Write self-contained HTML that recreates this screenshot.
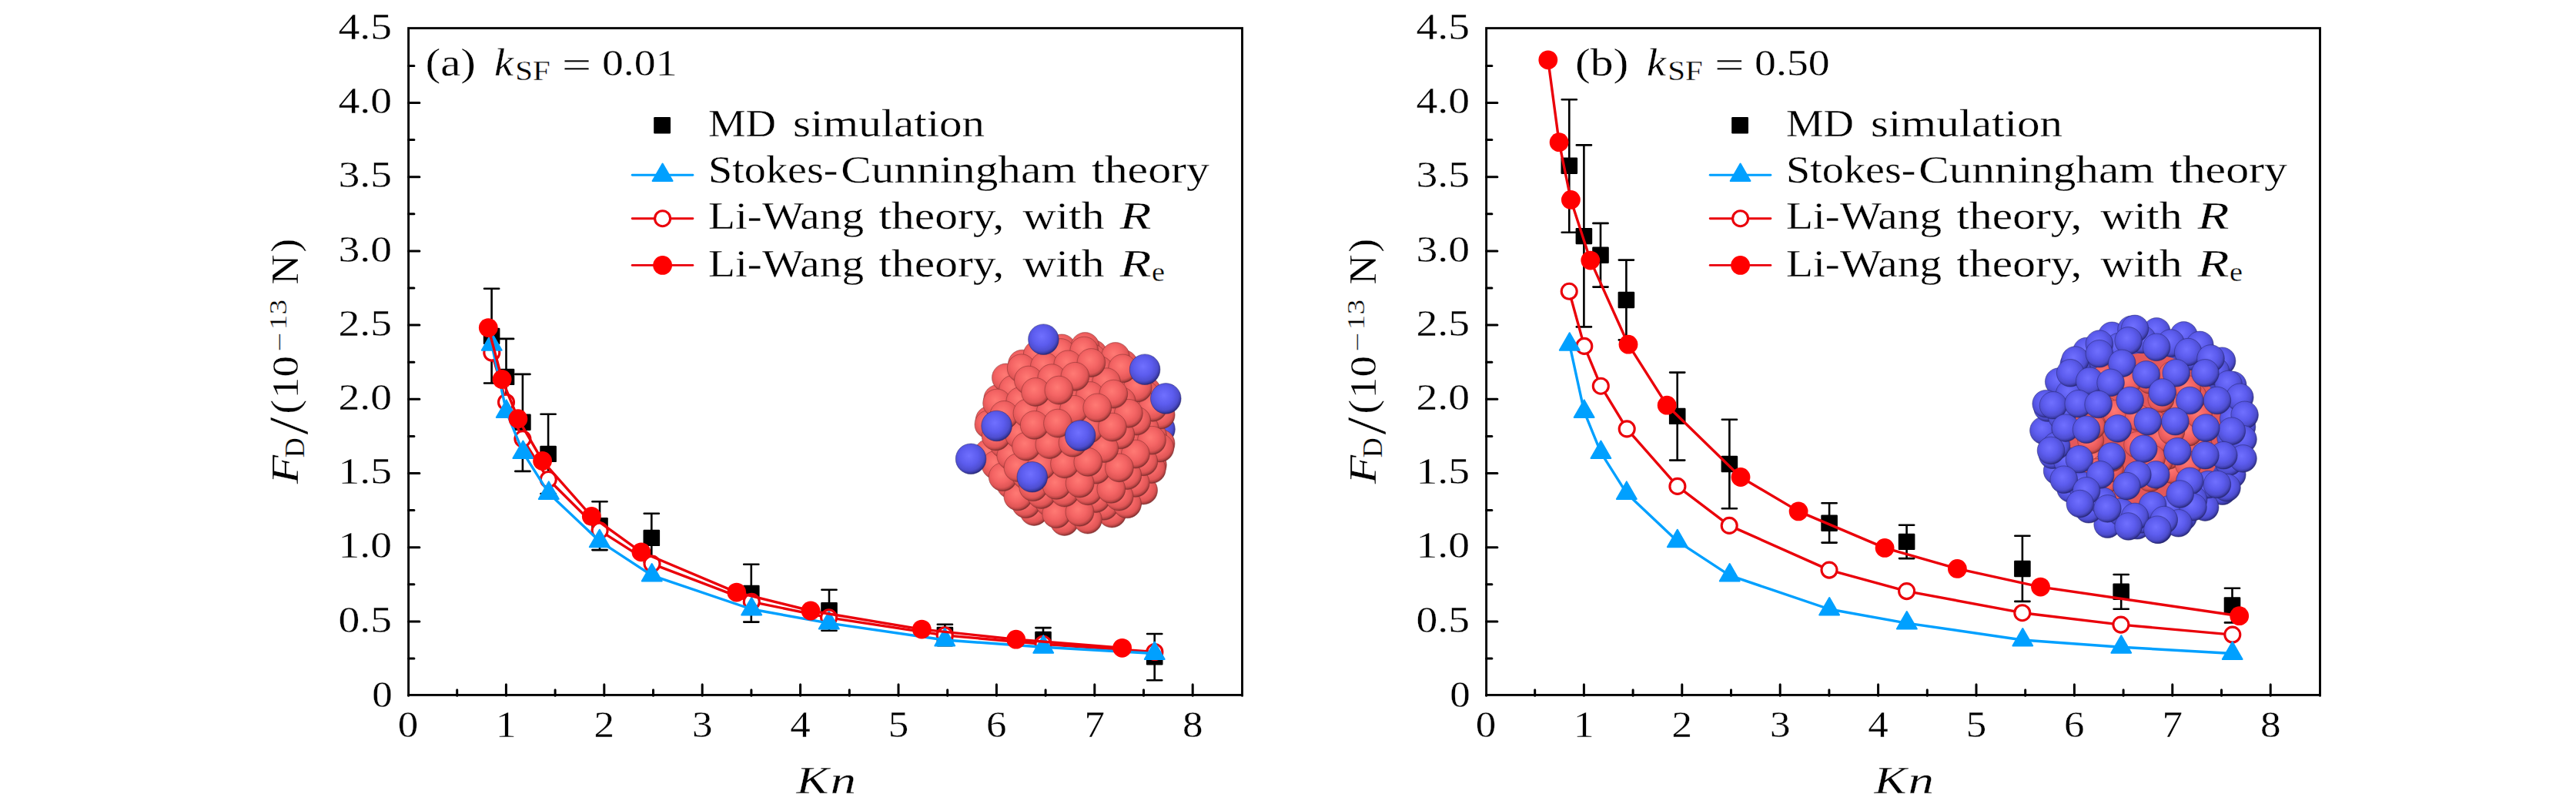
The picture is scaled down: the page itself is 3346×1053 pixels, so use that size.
<!DOCTYPE html>
<html><head><meta charset="utf-8"><title>Drag force vs Knudsen number</title>
<style>html,body{margin:0;padding:0;background:#fff}body{width:3346px;height:1053px;overflow:hidden}svg{display:block}text{white-space:pre;stroke:#fff;stroke-width:.3px}</style>
</head><body>
<svg width="3346" height="1053" viewBox="0 0 3346 1053" font-family="'Liberation Serif', serif" fill="#000">
<defs>
<radialGradient id="gr" cx="44%" cy="40%" r="60%"><stop offset="0" stop-color="#ff7a74"/><stop offset="0.5" stop-color="#f46464"/><stop offset="0.8" stop-color="#e05656"/><stop offset="0.92" stop-color="#b84444"/><stop offset="1" stop-color="#843030"/></radialGradient>
<radialGradient id="gb" cx="44%" cy="40%" r="60%"><stop offset="0" stop-color="#7070ff"/><stop offset="0.5" stop-color="#5c5cee"/><stop offset="0.8" stop-color="#4e4ed0"/><stop offset="0.92" stop-color="#3c3ca8"/><stop offset="1" stop-color="#2a2a7c"/></radialGradient>
</defs>
<rect width="3346" height="1053" fill="#fff"/>
<g><circle cx="1506.5" cy="557.2" r="19.8" fill="url(#gb)" stroke="#24246a" stroke-opacity=".55" stroke-width=".9"/><circle cx="1396.0" cy="563.5" r="108" fill="#b84446"/><circle cx="1333.9" cy="648.6" r="18.4" fill="url(#gr)" stroke="#7c2a2a" stroke-opacity=".55" stroke-width=".9"/><circle cx="1326.3" cy="552.9" r="18.4" fill="url(#gr)" stroke="#7c2a2a" stroke-opacity=".55" stroke-width=".9"/><circle cx="1439.4" cy="485.0" r="18.4" fill="url(#gr)" stroke="#7c2a2a" stroke-opacity=".55" stroke-width=".9"/><circle cx="1435.1" cy="651.2" r="18.4" fill="url(#gr)" stroke="#7c2a2a" stroke-opacity=".55" stroke-width=".9"/><circle cx="1314.3" cy="623.4" r="18.4" fill="url(#gr)" stroke="#7c2a2a" stroke-opacity=".55" stroke-width=".9"/><circle cx="1306.7" cy="527.7" r="18.4" fill="url(#gr)" stroke="#7c2a2a" stroke-opacity=".55" stroke-width=".9"/><circle cx="1419.8" cy="459.8" r="18.4" fill="url(#gr)" stroke="#7c2a2a" stroke-opacity=".55" stroke-width=".9"/><circle cx="1415.4" cy="626.0" r="18.4" fill="url(#gr)" stroke="#7c2a2a" stroke-opacity=".55" stroke-width=".9"/><circle cx="1294.7" cy="598.2" r="18.4" fill="url(#gr)" stroke="#7c2a2a" stroke-opacity=".55" stroke-width=".9"/><circle cx="1383.8" cy="671.4" r="18.4" fill="url(#gr)" stroke="#7c2a2a" stroke-opacity=".55" stroke-width=".9"/><circle cx="1496.9" cy="603.5" r="18.4" fill="url(#gr)" stroke="#7c2a2a" stroke-opacity=".55" stroke-width=".9"/><circle cx="1489.3" cy="507.8" r="18.4" fill="url(#gr)" stroke="#7c2a2a" stroke-opacity=".55" stroke-width=".9"/><circle cx="1368.5" cy="480.0" r="18.4" fill="url(#gr)" stroke="#7c2a2a" stroke-opacity=".55" stroke-width=".9"/><circle cx="1364.2" cy="646.2" r="18.4" fill="url(#gr)" stroke="#7c2a2a" stroke-opacity=".55" stroke-width=".9"/><circle cx="1477.3" cy="578.3" r="18.4" fill="url(#gr)" stroke="#7c2a2a" stroke-opacity=".55" stroke-width=".9"/><circle cx="1469.7" cy="482.6" r="18.4" fill="url(#gr)" stroke="#7c2a2a" stroke-opacity=".55" stroke-width=".9"/><circle cx="1465.3" cy="648.8" r="18.4" fill="url(#gr)" stroke="#7c2a2a" stroke-opacity=".55" stroke-width=".9"/><circle cx="1344.5" cy="621.0" r="18.4" fill="url(#gr)" stroke="#7c2a2a" stroke-opacity=".55" stroke-width=".9"/><circle cx="1336.9" cy="525.3" r="18.4" fill="url(#gr)" stroke="#7c2a2a" stroke-opacity=".55" stroke-width=".9"/><circle cx="1445.7" cy="623.6" r="18.4" fill="url(#gr)" stroke="#7c2a2a" stroke-opacity=".55" stroke-width=".9"/><circle cx="1324.9" cy="595.8" r="18.4" fill="url(#gr)" stroke="#7c2a2a" stroke-opacity=".55" stroke-width=".9"/><circle cx="1317.3" cy="500.1" r="18.4" fill="url(#gr)" stroke="#7c2a2a" stroke-opacity=".55" stroke-width=".9"/><circle cx="1305.3" cy="570.6" r="18.4" fill="url(#gr)" stroke="#7c2a2a" stroke-opacity=".55" stroke-width=".9"/><circle cx="1414.1" cy="669.0" r="18.4" fill="url(#gr)" stroke="#7c2a2a" stroke-opacity=".55" stroke-width=".9"/><circle cx="1285.6" cy="545.5" r="18.4" fill="url(#gr)" stroke="#7c2a2a" stroke-opacity=".55" stroke-width=".9"/><circle cx="1398.8" cy="477.6" r="18.4" fill="url(#gr)" stroke="#7c2a2a" stroke-opacity=".55" stroke-width=".9"/><circle cx="1394.4" cy="643.8" r="18.4" fill="url(#gr)" stroke="#7c2a2a" stroke-opacity=".55" stroke-width=".9"/><circle cx="1507.6" cy="575.9" r="18.4" fill="url(#gr)" stroke="#7c2a2a" stroke-opacity=".55" stroke-width=".9"/><circle cx="1379.1" cy="452.4" r="18.4" fill="url(#gr)" stroke="#7c2a2a" stroke-opacity=".55" stroke-width=".9"/><circle cx="1487.9" cy="550.7" r="18.4" fill="url(#gr)" stroke="#7c2a2a" stroke-opacity=".55" stroke-width=".9"/><circle cx="1475.9" cy="621.3" r="18.4" fill="url(#gr)" stroke="#7c2a2a" stroke-opacity=".55" stroke-width=".9"/><circle cx="1468.3" cy="525.6" r="18.4" fill="url(#gr)" stroke="#7c2a2a" stroke-opacity=".55" stroke-width=".9"/><circle cx="1347.5" cy="497.7" r="18.4" fill="url(#gr)" stroke="#7c2a2a" stroke-opacity=".55" stroke-width=".9"/><circle cx="1343.2" cy="664.0" r="18.4" fill="url(#gr)" stroke="#7c2a2a" stroke-opacity=".55" stroke-width=".9"/><circle cx="1448.6" cy="500.4" r="18.4" fill="url(#gr)" stroke="#7c2a2a" stroke-opacity=".55" stroke-width=".9"/><circle cx="1327.9" cy="472.6" r="18.4" fill="url(#gr)" stroke="#7c2a2a" stroke-opacity=".55" stroke-width=".9"/><circle cx="1444.3" cy="666.6" r="18.4" fill="url(#gr)" stroke="#7c2a2a" stroke-opacity=".55" stroke-width=".9"/><circle cx="1323.5" cy="638.8" r="18.4" fill="url(#gr)" stroke="#7c2a2a" stroke-opacity=".55" stroke-width=".9"/><circle cx="1315.9" cy="543.1" r="18.4" fill="url(#gr)" stroke="#7c2a2a" stroke-opacity=".55" stroke-width=".9"/><circle cx="1429.0" cy="475.2" r="18.4" fill="url(#gr)" stroke="#7c2a2a" stroke-opacity=".55" stroke-width=".9"/><circle cx="1424.7" cy="641.4" r="18.4" fill="url(#gr)" stroke="#7c2a2a" stroke-opacity=".55" stroke-width=".9"/><circle cx="1303.9" cy="613.6" r="18.4" fill="url(#gr)" stroke="#7c2a2a" stroke-opacity=".55" stroke-width=".9"/><circle cx="1296.2" cy="517.9" r="18.4" fill="url(#gr)" stroke="#7c2a2a" stroke-opacity=".55" stroke-width=".9"/><circle cx="1409.4" cy="450.0" r="18.4" fill="url(#gr)" stroke="#7c2a2a" stroke-opacity=".55" stroke-width=".9"/><circle cx="1284.3" cy="588.4" r="18.4" fill="url(#gr)" stroke="#7c2a2a" stroke-opacity=".55" stroke-width=".9"/><circle cx="1498.5" cy="523.2" r="18.4" fill="url(#gr)" stroke="#7c2a2a" stroke-opacity=".55" stroke-width=".9"/><circle cx="1373.4" cy="661.6" r="18.4" fill="url(#gr)" stroke="#7c2a2a" stroke-opacity=".55" stroke-width=".9"/><circle cx="1486.5" cy="593.7" r="18.4" fill="url(#gr)" stroke="#7c2a2a" stroke-opacity=".55" stroke-width=".9"/><circle cx="1478.9" cy="498.0" r="18.4" fill="url(#gr)" stroke="#7c2a2a" stroke-opacity=".55" stroke-width=".9"/><circle cx="1358.1" cy="470.2" r="18.4" fill="url(#gr)" stroke="#7c2a2a" stroke-opacity=".55" stroke-width=".9"/><circle cx="1353.8" cy="636.4" r="18.4" fill="url(#gr)" stroke="#7c2a2a" stroke-opacity=".55" stroke-width=".9"/><circle cx="1459.3" cy="472.8" r="18.4" fill="url(#gr)" stroke="#7c2a2a" stroke-opacity=".55" stroke-width=".9"/><circle cx="1454.9" cy="639.0" r="18.4" fill="url(#gr)" stroke="#7c2a2a" stroke-opacity=".55" stroke-width=".9"/><circle cx="1334.1" cy="611.2" r="18.4" fill="url(#gr)" stroke="#7c2a2a" stroke-opacity=".55" stroke-width=".9"/><circle cx="1326.5" cy="515.5" r="18.4" fill="url(#gr)" stroke="#7c2a2a" stroke-opacity=".55" stroke-width=".9"/><circle cx="1314.5" cy="586.0" r="18.4" fill="url(#gr)" stroke="#7c2a2a" stroke-opacity=".55" stroke-width=".9"/><circle cx="1306.9" cy="490.4" r="18.4" fill="url(#gr)" stroke="#7c2a2a" stroke-opacity=".55" stroke-width=".9"/><circle cx="1294.9" cy="560.9" r="18.4" fill="url(#gr)" stroke="#7c2a2a" stroke-opacity=".55" stroke-width=".9"/><circle cx="1403.6" cy="659.2" r="18.4" fill="url(#gr)" stroke="#7c2a2a" stroke-opacity=".55" stroke-width=".9"/><circle cx="1388.4" cy="467.8" r="18.4" fill="url(#gr)" stroke="#7c2a2a" stroke-opacity=".55" stroke-width=".9"/><circle cx="1497.1" cy="566.1" r="18.4" fill="url(#gr)" stroke="#7c2a2a" stroke-opacity=".55" stroke-width=".9"/><circle cx="1485.1" cy="636.6" r="18.4" fill="url(#gr)" stroke="#7c2a2a" stroke-opacity=".55" stroke-width=".9"/><circle cx="1477.5" cy="541.0" r="18.4" fill="url(#gr)" stroke="#7c2a2a" stroke-opacity=".55" stroke-width=".9"/><circle cx="1465.5" cy="611.5" r="18.4" fill="url(#gr)" stroke="#7c2a2a" stroke-opacity=".55" stroke-width=".9"/><circle cx="1457.9" cy="515.8" r="18.4" fill="url(#gr)" stroke="#7c2a2a" stroke-opacity=".55" stroke-width=".9"/><circle cx="1337.1" cy="488.0" r="18.4" fill="url(#gr)" stroke="#7c2a2a" stroke-opacity=".55" stroke-width=".9"/><circle cx="1332.7" cy="654.2" r="18.4" fill="url(#gr)" stroke="#7c2a2a" stroke-opacity=".55" stroke-width=".9"/><circle cx="1438.2" cy="490.6" r="18.4" fill="url(#gr)" stroke="#7c2a2a" stroke-opacity=".55" stroke-width=".9"/><circle cx="1433.9" cy="656.8" r="18.4" fill="url(#gr)" stroke="#7c2a2a" stroke-opacity=".55" stroke-width=".9"/><circle cx="1313.1" cy="629.0" r="18.4" fill="url(#gr)" stroke="#7c2a2a" stroke-opacity=".55" stroke-width=".9"/><circle cx="1305.5" cy="533.3" r="18.4" fill="url(#gr)" stroke="#7c2a2a" stroke-opacity=".55" stroke-width=".9"/><circle cx="1418.6" cy="465.4" r="18.4" fill="url(#gr)" stroke="#7c2a2a" stroke-opacity=".55" stroke-width=".9"/><circle cx="1293.5" cy="603.8" r="18.4" fill="url(#gr)" stroke="#7c2a2a" stroke-opacity=".55" stroke-width=".9"/><circle cx="1507.7" cy="538.6" r="18.4" fill="url(#gr)" stroke="#7c2a2a" stroke-opacity=".55" stroke-width=".9"/><circle cx="1382.6" cy="677.0" r="18.4" fill="url(#gr)" stroke="#7c2a2a" stroke-opacity=".55" stroke-width=".9"/><circle cx="1495.8" cy="609.1" r="18.4" fill="url(#gr)" stroke="#7c2a2a" stroke-opacity=".55" stroke-width=".9"/><circle cx="1488.1" cy="513.4" r="18.4" fill="url(#gr)" stroke="#7c2a2a" stroke-opacity=".55" stroke-width=".9"/><circle cx="1367.3" cy="485.6" r="18.4" fill="url(#gr)" stroke="#7c2a2a" stroke-opacity=".55" stroke-width=".9"/><circle cx="1363.0" cy="651.8" r="18.4" fill="url(#gr)" stroke="#7c2a2a" stroke-opacity=".55" stroke-width=".9"/><circle cx="1476.1" cy="583.9" r="18.4" fill="url(#gr)" stroke="#7c2a2a" stroke-opacity=".55" stroke-width=".9"/><circle cx="1468.5" cy="488.2" r="18.4" fill="url(#gr)" stroke="#7c2a2a" stroke-opacity=".55" stroke-width=".9"/><circle cx="1347.7" cy="460.4" r="18.4" fill="url(#gr)" stroke="#7c2a2a" stroke-opacity=".55" stroke-width=".9"/><circle cx="1464.1" cy="654.4" r="18.4" fill="url(#gr)" stroke="#7c2a2a" stroke-opacity=".55" stroke-width=".9"/><circle cx="1343.4" cy="626.6" r="18.4" fill="url(#gr)" stroke="#7c2a2a" stroke-opacity=".55" stroke-width=".9"/><circle cx="1448.8" cy="463.0" r="18.4" fill="url(#gr)" stroke="#7c2a2a" stroke-opacity=".55" stroke-width=".9"/><circle cx="1444.5" cy="629.3" r="18.4" fill="url(#gr)" stroke="#7c2a2a" stroke-opacity=".55" stroke-width=".9"/><circle cx="1323.7" cy="601.4" r="18.4" fill="url(#gr)" stroke="#7c2a2a" stroke-opacity=".55" stroke-width=".9"/><circle cx="1316.1" cy="505.7" r="18.4" fill="url(#gr)" stroke="#7c2a2a" stroke-opacity=".55" stroke-width=".9"/><circle cx="1304.1" cy="576.3" r="18.4" fill="url(#gr)" stroke="#7c2a2a" stroke-opacity=".55" stroke-width=".9"/><circle cx="1412.9" cy="674.6" r="18.4" fill="url(#gr)" stroke="#7c2a2a" stroke-opacity=".55" stroke-width=".9"/><circle cx="1284.4" cy="551.1" r="18.4" fill="url(#gr)" stroke="#7c2a2a" stroke-opacity=".55" stroke-width=".9"/><circle cx="1397.6" cy="483.2" r="18.4" fill="url(#gr)" stroke="#7c2a2a" stroke-opacity=".55" stroke-width=".9"/><circle cx="1393.2" cy="649.4" r="18.4" fill="url(#gr)" stroke="#7c2a2a" stroke-opacity=".55" stroke-width=".9"/><circle cx="1506.4" cy="581.5" r="18.4" fill="url(#gr)" stroke="#7c2a2a" stroke-opacity=".55" stroke-width=".9"/><circle cx="1377.9" cy="458.0" r="18.4" fill="url(#gr)" stroke="#7c2a2a" stroke-opacity=".55" stroke-width=".9"/><circle cx="1486.7" cy="556.4" r="18.4" fill="url(#gr)" stroke="#7c2a2a" stroke-opacity=".55" stroke-width=".9"/><circle cx="1474.7" cy="626.9" r="18.4" fill="url(#gr)" stroke="#7c2a2a" stroke-opacity=".55" stroke-width=".9"/><circle cx="1467.1" cy="531.2" r="18.4" fill="url(#gr)" stroke="#7c2a2a" stroke-opacity=".55" stroke-width=".9"/><circle cx="1346.3" cy="503.4" r="18.4" fill="url(#gr)" stroke="#7c2a2a" stroke-opacity=".55" stroke-width=".9"/><circle cx="1455.1" cy="601.7" r="18.4" fill="url(#gr)" stroke="#7c2a2a" stroke-opacity=".55" stroke-width=".9"/><circle cx="1447.5" cy="506.0" r="18.4" fill="url(#gr)" stroke="#7c2a2a" stroke-opacity=".55" stroke-width=".9"/><circle cx="1326.7" cy="478.2" r="18.4" fill="url(#gr)" stroke="#7c2a2a" stroke-opacity=".55" stroke-width=".9"/><circle cx="1322.3" cy="644.4" r="18.4" fill="url(#gr)" stroke="#7c2a2a" stroke-opacity=".55" stroke-width=".9"/><circle cx="1314.7" cy="548.7" r="18.4" fill="url(#gr)" stroke="#7c2a2a" stroke-opacity=".55" stroke-width=".9"/><circle cx="1427.8" cy="480.8" r="18.4" fill="url(#gr)" stroke="#7c2a2a" stroke-opacity=".55" stroke-width=".9"/><circle cx="1423.5" cy="647.0" r="18.4" fill="url(#gr)" stroke="#7c2a2a" stroke-opacity=".55" stroke-width=".9"/><circle cx="1302.7" cy="619.2" r="18.4" fill="url(#gr)" stroke="#7c2a2a" stroke-opacity=".55" stroke-width=".9"/><circle cx="1295.1" cy="523.5" r="18.4" fill="url(#gr)" stroke="#7c2a2a" stroke-opacity=".55" stroke-width=".9"/><circle cx="1408.2" cy="455.6" r="18.4" fill="url(#gr)" stroke="#7c2a2a" stroke-opacity=".55" stroke-width=".9"/><circle cx="1497.3" cy="528.8" r="18.4" fill="url(#gr)" stroke="#7c2a2a" stroke-opacity=".55" stroke-width=".9"/><circle cx="1376.6" cy="501.0" r="18.4" fill="url(#gr)" stroke="#7c2a2a" stroke-opacity=".55" stroke-width=".9"/><circle cx="1372.2" cy="667.2" r="18.4" fill="url(#gr)" stroke="#7c2a2a" stroke-opacity=".55" stroke-width=".9"/><circle cx="1485.3" cy="599.3" r="18.4" fill="url(#gr)" stroke="#7c2a2a" stroke-opacity=".55" stroke-width=".9"/><circle cx="1477.7" cy="503.6" r="18.4" fill="url(#gr)" stroke="#7c2a2a" stroke-opacity=".55" stroke-width=".9"/><circle cx="1356.9" cy="475.8" r="18.4" fill="url(#gr)" stroke="#7c2a2a" stroke-opacity=".55" stroke-width=".9"/><circle cx="1352.6" cy="642.0" r="18.4" fill="url(#gr)" stroke="#7c2a2a" stroke-opacity=".55" stroke-width=".9"/><circle cx="1465.7" cy="574.1" r="18.4" fill="url(#gr)" stroke="#7c2a2a" stroke-opacity=".55" stroke-width=".9"/><circle cx="1458.1" cy="478.4" r="18.4" fill="url(#gr)" stroke="#7c2a2a" stroke-opacity=".55" stroke-width=".9"/><circle cx="1453.7" cy="644.6" r="18.4" fill="url(#gr)" stroke="#7c2a2a" stroke-opacity=".55" stroke-width=".9"/><circle cx="1332.9" cy="616.8" r="18.4" fill="url(#gr)" stroke="#7c2a2a" stroke-opacity=".55" stroke-width=".9"/><circle cx="1325.3" cy="521.1" r="18.4" fill="url(#gr)" stroke="#7c2a2a" stroke-opacity=".55" stroke-width=".9"/><circle cx="1434.1" cy="619.5" r="18.4" fill="url(#gr)" stroke="#7c2a2a" stroke-opacity=".55" stroke-width=".9"/><circle cx="1313.3" cy="591.7" r="18.4" fill="url(#gr)" stroke="#7c2a2a" stroke-opacity=".55" stroke-width=".9"/><circle cx="1293.7" cy="566.5" r="18.4" fill="url(#gr)" stroke="#7c2a2a" stroke-opacity=".55" stroke-width=".9"/><circle cx="1406.8" cy="498.6" r="18.4" fill="url(#gr)" stroke="#7c2a2a" stroke-opacity=".55" stroke-width=".9"/><circle cx="1402.5" cy="664.8" r="18.4" fill="url(#gr)" stroke="#7c2a2a" stroke-opacity=".55" stroke-width=".9"/><circle cx="1387.2" cy="473.4" r="18.4" fill="url(#gr)" stroke="#7c2a2a" stroke-opacity=".55" stroke-width=".9"/><circle cx="1382.8" cy="639.6" r="18.4" fill="url(#gr)" stroke="#7c2a2a" stroke-opacity=".55" stroke-width=".9"/><circle cx="1496.0" cy="571.7" r="18.4" fill="url(#gr)" stroke="#7c2a2a" stroke-opacity=".55" stroke-width=".9"/><circle cx="1363.2" cy="614.5" r="18.4" fill="url(#gr)" stroke="#7c2a2a" stroke-opacity=".55" stroke-width=".9"/><circle cx="1476.3" cy="546.6" r="18.4" fill="url(#gr)" stroke="#7c2a2a" stroke-opacity=".55" stroke-width=".9"/><circle cx="1355.5" cy="518.8" r="18.4" fill="url(#gr)" stroke="#7c2a2a" stroke-opacity=".55" stroke-width=".9"/><circle cx="1464.3" cy="617.1" r="18.4" fill="url(#gr)" stroke="#7c2a2a" stroke-opacity=".55" stroke-width=".9"/><circle cx="1343.5" cy="589.3" r="18.4" fill="url(#gr)" stroke="#7c2a2a" stroke-opacity=".55" stroke-width=".9"/><circle cx="1456.7" cy="521.4" r="18.4" fill="url(#gr)" stroke="#7c2a2a" stroke-opacity=".55" stroke-width=".9"/><circle cx="1335.9" cy="493.6" r="18.4" fill="url(#gr)" stroke="#7c2a2a" stroke-opacity=".55" stroke-width=".9"/><circle cx="1444.7" cy="591.9" r="18.4" fill="url(#gr)" stroke="#7c2a2a" stroke-opacity=".55" stroke-width=".9"/><circle cx="1323.9" cy="564.1" r="18.4" fill="url(#gr)" stroke="#7c2a2a" stroke-opacity=".55" stroke-width=".9"/><circle cx="1437.1" cy="496.2" r="18.4" fill="url(#gr)" stroke="#7c2a2a" stroke-opacity=".55" stroke-width=".9"/><circle cx="1304.3" cy="538.9" r="18.4" fill="url(#gr)" stroke="#7c2a2a" stroke-opacity=".55" stroke-width=".9"/><circle cx="1417.4" cy="471.0" r="18.4" fill="url(#gr)" stroke="#7c2a2a" stroke-opacity=".55" stroke-width=".9"/><circle cx="1413.1" cy="637.3" r="18.4" fill="url(#gr)" stroke="#7c2a2a" stroke-opacity=".55" stroke-width=".9"/><circle cx="1393.4" cy="612.1" r="18.4" fill="url(#gr)" stroke="#7c2a2a" stroke-opacity=".55" stroke-width=".9"/><circle cx="1385.8" cy="516.4" r="18.4" fill="url(#gr)" stroke="#7c2a2a" stroke-opacity=".55" stroke-width=".9"/><circle cx="1373.8" cy="586.9" r="18.4" fill="url(#gr)" stroke="#7c2a2a" stroke-opacity=".55" stroke-width=".9"/><circle cx="1366.2" cy="491.2" r="18.4" fill="url(#gr)" stroke="#7c2a2a" stroke-opacity=".55" stroke-width=".9"/><circle cx="1474.9" cy="589.5" r="18.4" fill="url(#gr)" stroke="#7c2a2a" stroke-opacity=".55" stroke-width=".9"/><circle cx="1354.2" cy="561.7" r="18.4" fill="url(#gr)" stroke="#7c2a2a" stroke-opacity=".55" stroke-width=".9"/><circle cx="1342.2" cy="632.2" r="18.4" fill="url(#gr)" stroke="#7c2a2a" stroke-opacity=".55" stroke-width=".9"/><circle cx="1455.3" cy="564.4" r="18.4" fill="url(#gr)" stroke="#7c2a2a" stroke-opacity=".55" stroke-width=".9"/><circle cx="1334.5" cy="536.5" r="18.4" fill="url(#gr)" stroke="#7c2a2a" stroke-opacity=".55" stroke-width=".9"/><circle cx="1443.3" cy="634.9" r="18.4" fill="url(#gr)" stroke="#7c2a2a" stroke-opacity=".55" stroke-width=".9"/><circle cx="1322.5" cy="607.1" r="18.4" fill="url(#gr)" stroke="#7c2a2a" stroke-opacity=".55" stroke-width=".9"/><circle cx="1435.7" cy="539.2" r="18.4" fill="url(#gr)" stroke="#7c2a2a" stroke-opacity=".55" stroke-width=".9"/><circle cx="1423.7" cy="609.7" r="18.4" fill="url(#gr)" stroke="#7c2a2a" stroke-opacity=".55" stroke-width=".9"/><circle cx="1416.0" cy="514.0" r="18.4" fill="url(#gr)" stroke="#7c2a2a" stroke-opacity=".55" stroke-width=".9"/><circle cx="1404.0" cy="584.5" r="18.4" fill="url(#gr)" stroke="#7c2a2a" stroke-opacity=".55" stroke-width=".9"/><circle cx="1396.4" cy="488.8" r="18.4" fill="url(#gr)" stroke="#7c2a2a" stroke-opacity=".55" stroke-width=".9"/><circle cx="1384.4" cy="559.3" r="18.4" fill="url(#gr)" stroke="#7c2a2a" stroke-opacity=".55" stroke-width=".9"/><circle cx="1372.4" cy="629.9" r="18.4" fill="url(#gr)" stroke="#7c2a2a" stroke-opacity=".55" stroke-width=".9"/><circle cx="1364.8" cy="534.2" r="18.4" fill="url(#gr)" stroke="#7c2a2a" stroke-opacity=".55" stroke-width=".9"/><circle cx="1352.8" cy="604.7" r="18.4" fill="url(#gr)" stroke="#7c2a2a" stroke-opacity=".55" stroke-width=".9"/><circle cx="1465.9" cy="536.8" r="18.4" fill="url(#gr)" stroke="#7c2a2a" stroke-opacity=".55" stroke-width=".9"/><circle cx="1345.1" cy="509.0" r="18.4" fill="url(#gr)" stroke="#7c2a2a" stroke-opacity=".55" stroke-width=".9"/><circle cx="1453.9" cy="607.3" r="18.4" fill="url(#gr)" stroke="#7c2a2a" stroke-opacity=".55" stroke-width=".9"/><circle cx="1333.1" cy="579.5" r="18.4" fill="url(#gr)" stroke="#7c2a2a" stroke-opacity=".55" stroke-width=".9"/><circle cx="1446.3" cy="511.6" r="18.4" fill="url(#gr)" stroke="#7c2a2a" stroke-opacity=".55" stroke-width=".9"/><circle cx="1434.3" cy="582.1" r="18.4" fill="url(#gr)" stroke="#7c2a2a" stroke-opacity=".55" stroke-width=".9"/><circle cx="1414.6" cy="557.0" r="18.4" fill="url(#gr)" stroke="#7c2a2a" stroke-opacity=".55" stroke-width=".9"/><circle cx="1402.7" cy="627.5" r="18.4" fill="url(#gr)" stroke="#7c2a2a" stroke-opacity=".55" stroke-width=".9"/><circle cx="1395.0" cy="531.8" r="18.4" fill="url(#gr)" stroke="#7c2a2a" stroke-opacity=".55" stroke-width=".9"/><circle cx="1383.0" cy="602.3" r="18.4" fill="url(#gr)" stroke="#7c2a2a" stroke-opacity=".55" stroke-width=".9"/><circle cx="1375.4" cy="506.6" r="18.4" fill="url(#gr)" stroke="#7c2a2a" stroke-opacity=".55" stroke-width=".9"/><circle cx="1363.4" cy="577.1" r="18.4" fill="url(#gr)" stroke="#7c2a2a" stroke-opacity=".55" stroke-width=".9"/><circle cx="1343.7" cy="551.9" r="18.4" fill="url(#gr)" stroke="#7c2a2a" stroke-opacity=".55" stroke-width=".9"/><circle cx="1444.9" cy="554.6" r="18.4" fill="url(#gr)" stroke="#7c2a2a" stroke-opacity=".55" stroke-width=".9"/><circle cx="1425.3" cy="529.4" r="18.4" fill="url(#gr)" stroke="#7c2a2a" stroke-opacity=".55" stroke-width=".9"/><circle cx="1413.3" cy="599.9" r="18.4" fill="url(#gr)" stroke="#7c2a2a" stroke-opacity=".55" stroke-width=".9"/><circle cx="1393.6" cy="574.7" r="18.4" fill="url(#gr)" stroke="#7c2a2a" stroke-opacity=".55" stroke-width=".9"/><circle cx="1374.0" cy="549.6" r="18.4" fill="url(#gr)" stroke="#7c2a2a" stroke-opacity=".55" stroke-width=".9"/></g>
<circle cx="1355.4" cy="440.7" r="19.8" fill="url(#gb)" stroke="#24246a" stroke-opacity=".55" stroke-width=".9"/>
<circle cx="1487.1" cy="479.7" r="19.8" fill="url(#gb)" stroke="#24246a" stroke-opacity=".55" stroke-width=".9"/>
<circle cx="1514.3" cy="517.4" r="19.8" fill="url(#gb)" stroke="#24246a" stroke-opacity=".55" stroke-width=".9"/>
<circle cx="1294.6" cy="553.0" r="19.8" fill="url(#gb)" stroke="#24246a" stroke-opacity=".55" stroke-width=".9"/>
<circle cx="1403.2" cy="565.6" r="19.8" fill="url(#gb)" stroke="#24246a" stroke-opacity=".55" stroke-width=".9"/>
<circle cx="1261.1" cy="595.8" r="19.8" fill="url(#gb)" stroke="#24246a" stroke-opacity=".55" stroke-width=".9"/>
<circle cx="1340.8" cy="619.3" r="19.8" fill="url(#gb)" stroke="#24246a" stroke-opacity=".55" stroke-width=".9"/>
<g stroke="#000" stroke-width="2.6" stroke-linecap="round" fill="none"><path d="M638.6 374.8V497.5M629.0 374.8h19.2M629.0 497.5h19.2"/><path d="M657.5 439.9V538.9M647.9 439.9h19.2M647.9 538.9h19.2"/><path d="M678.9 485.9V611.9M669.3 485.9h19.2M669.3 611.9h19.2"/><path d="M712.1 537.7V641.1M702.5 537.7h19.2M702.5 641.1h19.2"/><path d="M779.0 651.2V714.1M769.4 651.2h19.2M769.4 714.1h19.2"/><path d="M846.3 666.7V730.1M836.7 666.7h19.2M836.7 730.1h19.2"/><path d="M975.8 732.7V807.6M966.2 732.7h19.2M966.2 807.6h19.2"/><path d="M1077.0 765.8V818.7M1067.4 765.8h19.2M1067.4 818.7h19.2"/><path d="M1227.4 810.7V838.1M1217.8 810.7h19.2M1217.8 838.1h19.2"/><path d="M1355.0 815.1V845.7M1345.4 815.1h19.2M1345.4 845.7h19.2"/><path d="M1499.7 823.0V883.2M1490.1 823.0h19.2M1490.1 883.2h19.2"/></g>
<rect x="627.8" y="425.7" width="21.6" height="21.4" rx="1.2" fill="#000"/>
<rect x="646.7" y="478.7" width="21.6" height="21.4" rx="1.2" fill="#000"/>
<rect x="668.1" y="537.5" width="21.6" height="21.4" rx="1.2" fill="#000"/>
<rect x="701.3" y="578.7" width="21.6" height="21.4" rx="1.2" fill="#000"/>
<rect x="768.2" y="672.0" width="21.6" height="21.4" rx="1.2" fill="#000"/>
<rect x="835.5" y="687.7" width="21.6" height="21.4" rx="1.2" fill="#000"/>
<rect x="965.0" y="759.7" width="21.6" height="21.4" rx="1.2" fill="#000"/>
<rect x="1066.2" y="781.9" width="21.6" height="21.4" rx="1.2" fill="#000"/>
<rect x="1216.6" y="813.7" width="21.6" height="21.4" rx="1.2" fill="#000"/>
<rect x="1344.2" y="819.7" width="21.6" height="21.4" rx="1.2" fill="#000"/>
<rect x="1488.9" y="842.0" width="21.6" height="21.4" rx="1.2" fill="#000"/>
<polyline points="638.8,458.1 657.5,522.2 678.9,569.8 712.3,622.5 779.1,688.9 847.0,732.1 976.3,781.3 1076.6,801.9 1227.2,824.9 1355.0,836.2 1499.9,846.5" fill="none" stroke="#ea000a" stroke-width="3.4" stroke-linejoin="round"/>
<circle cx="638.8" cy="458.1" r="10" fill="#fff" stroke="#ea000a" stroke-width="3.1"/>
<circle cx="657.5" cy="522.2" r="10" fill="#fff" stroke="#ea000a" stroke-width="3.1"/>
<circle cx="678.9" cy="569.8" r="10" fill="#fff" stroke="#ea000a" stroke-width="3.1"/>
<circle cx="712.3" cy="622.5" r="10" fill="#fff" stroke="#ea000a" stroke-width="3.1"/>
<circle cx="779.1" cy="688.9" r="10" fill="#fff" stroke="#ea000a" stroke-width="3.1"/>
<circle cx="847.0" cy="732.1" r="10" fill="#fff" stroke="#ea000a" stroke-width="3.1"/>
<circle cx="976.3" cy="781.3" r="10" fill="#fff" stroke="#ea000a" stroke-width="3.1"/>
<circle cx="1076.6" cy="801.9" r="10" fill="#fff" stroke="#ea000a" stroke-width="3.1"/>
<circle cx="1227.2" cy="824.9" r="10" fill="#fff" stroke="#ea000a" stroke-width="3.1"/>
<circle cx="1355.0" cy="836.2" r="10" fill="#fff" stroke="#ea000a" stroke-width="3.1"/>
<circle cx="1499.9" cy="846.5" r="10" fill="#fff" stroke="#ea000a" stroke-width="3.1"/>
<polyline points="638.7,447.2 657.7,534.4 679.4,587.6 712.8,640.4 778.8,702.7 846.7,747.1 976.2,791.0 1076.8,809.1 1227.3,831.0 1355.3,840.2 1499.7,848.5" fill="none" stroke="#00a0ff" stroke-width="3.4" stroke-linejoin="round"/>
<path d="M638.7 432.2L651.7 454.7H625.8Z" fill="#00a0ff" stroke="#00a0ff" stroke-width="2" stroke-linejoin="round"/>
<path d="M657.7 519.4L670.7 541.9H644.8Z" fill="#00a0ff" stroke="#00a0ff" stroke-width="2" stroke-linejoin="round"/>
<path d="M679.4 572.6L692.4 595.1H666.4Z" fill="#00a0ff" stroke="#00a0ff" stroke-width="2" stroke-linejoin="round"/>
<path d="M712.8 625.4L725.8 647.9H699.8Z" fill="#00a0ff" stroke="#00a0ff" stroke-width="2" stroke-linejoin="round"/>
<path d="M778.8 687.7L791.8 710.2H765.8Z" fill="#00a0ff" stroke="#00a0ff" stroke-width="2" stroke-linejoin="round"/>
<path d="M846.7 732.1L859.7 754.6H833.8Z" fill="#00a0ff" stroke="#00a0ff" stroke-width="2" stroke-linejoin="round"/>
<path d="M976.2 776.0L989.2 798.5H963.2Z" fill="#00a0ff" stroke="#00a0ff" stroke-width="2" stroke-linejoin="round"/>
<path d="M1076.8 794.1L1089.8 816.6H1063.8Z" fill="#00a0ff" stroke="#00a0ff" stroke-width="2" stroke-linejoin="round"/>
<path d="M1227.3 816.0L1240.2 838.5H1214.3Z" fill="#00a0ff" stroke="#00a0ff" stroke-width="2" stroke-linejoin="round"/>
<path d="M1355.3 825.2L1368.2 847.7H1342.3Z" fill="#00a0ff" stroke="#00a0ff" stroke-width="2" stroke-linejoin="round"/>
<path d="M1499.7 833.5L1512.7 856.0H1486.8Z" fill="#00a0ff" stroke="#00a0ff" stroke-width="2" stroke-linejoin="round"/>
<polyline points="634.3,425.6 652.1,492.5 672.9,543.7 704.6,598.4 768.3,670.4 832.9,716.8 956.8,769.1 1053.0,793.0 1197.3,817.1 1319.7,830.2 1457.6,841.3" fill="none" stroke="#ea000a" stroke-width="3.4" stroke-linejoin="round"/>
<circle cx="634.3" cy="425.6" r="12.4" fill="#ff0000"/>
<circle cx="652.1" cy="492.5" r="12.4" fill="#ff0000"/>
<circle cx="672.9" cy="543.7" r="12.4" fill="#ff0000"/>
<circle cx="704.6" cy="598.4" r="12.4" fill="#ff0000"/>
<circle cx="768.3" cy="670.4" r="12.4" fill="#ff0000"/>
<circle cx="832.9" cy="716.8" r="12.4" fill="#ff0000"/>
<circle cx="956.8" cy="769.1" r="12.4" fill="#ff0000"/>
<circle cx="1053.0" cy="793.0" r="12.4" fill="#ff0000"/>
<circle cx="1197.3" cy="817.1" r="12.4" fill="#ff0000"/>
<circle cx="1319.7" cy="830.2" r="12.4" fill="#ff0000"/>
<circle cx="1457.6" cy="841.3" r="12.4" fill="#ff0000"/>
<path d="M530.6 855.0h7.300000000000001M530.6 806.9h14.3M530.6 758.8h7.300000000000001M530.6 710.7h14.3M530.6 662.6h7.300000000000001M530.6 614.5h14.3M530.6 566.4h7.300000000000001M530.6 518.3h14.3M530.6 470.2h7.300000000000001M530.6 422.1h14.3M530.6 374.0h7.300000000000001M530.6 325.9h14.3M530.6 277.8h7.300000000000001M530.6 229.7h14.3M530.6 181.6h7.300000000000001M530.6 133.5h14.3M530.6 85.4h7.300000000000001M593.7 903.3v-7.6M657.4 903.3v-14.5M721.1 903.3v-7.6M784.8 903.3v-14.5M848.5 903.3v-7.6M912.2 903.3v-14.5M975.9 903.3v-7.6M1039.6 903.3v-14.5M1103.3 903.3v-7.6M1167.0 903.3v-14.5M1230.7 903.3v-7.6M1294.4 903.3v-14.5M1358.1 903.3v-7.6M1421.8 903.3v-14.5M1485.5 903.3v-7.6M1549.2 903.3v-14.5M530.6 902.4v0.9M1613.5 902.4v0.9" stroke="#000" stroke-width="3" stroke-linecap="round" fill="none"/>
<rect x="530.6" y="36.6" width="1082.9" height="865.8" fill="none" stroke="#000" stroke-width="2.9"/>
<text x="439.5" y="820.6" font-size="48.5" textLength="69.5" lengthAdjust="spacingAndGlyphs">0.5</text>
<text x="439.5" y="724.4" font-size="48.5" textLength="69.5" lengthAdjust="spacingAndGlyphs">1.0</text>
<text x="439.5" y="628.2" font-size="48.5" textLength="69.5" lengthAdjust="spacingAndGlyphs">1.5</text>
<text x="439.5" y="532.0" font-size="48.5" textLength="69.5" lengthAdjust="spacingAndGlyphs">2.0</text>
<text x="439.5" y="435.8" font-size="48.5" textLength="69.5" lengthAdjust="spacingAndGlyphs">2.5</text>
<text x="439.5" y="339.6" font-size="48.5" textLength="69.5" lengthAdjust="spacingAndGlyphs">3.0</text>
<text x="439.5" y="243.4" font-size="48.5" textLength="69.5" lengthAdjust="spacingAndGlyphs">3.5</text>
<text x="439.5" y="147.2" font-size="48.5" textLength="69.5" lengthAdjust="spacingAndGlyphs">4.0</text>
<text x="439.5" y="51.0" font-size="48.5" textLength="69.5" lengthAdjust="spacingAndGlyphs">4.5</text>
<text x="483.3" y="917.6" font-size="48.5" textLength="26.5" lengthAdjust="spacingAndGlyphs">0</text>
<text x="516.7" y="957.2" font-size="48.5" textLength="26.5" lengthAdjust="spacingAndGlyphs">0</text>
<text x="644.1" y="957.2" font-size="48.5" textLength="26.5" lengthAdjust="spacingAndGlyphs">1</text>
<text x="771.5" y="957.2" font-size="48.5" textLength="26.5" lengthAdjust="spacingAndGlyphs">2</text>
<text x="898.9" y="957.2" font-size="48.5" textLength="26.5" lengthAdjust="spacingAndGlyphs">3</text>
<text x="1026.3" y="957.2" font-size="48.5" textLength="26.5" lengthAdjust="spacingAndGlyphs">4</text>
<text x="1153.7" y="957.2" font-size="48.5" textLength="26.5" lengthAdjust="spacingAndGlyphs">5</text>
<text x="1281.1" y="957.2" font-size="48.5" textLength="26.5" lengthAdjust="spacingAndGlyphs">6</text>
<text x="1408.5" y="957.2" font-size="48.5" textLength="26.5" lengthAdjust="spacingAndGlyphs">7</text>
<text x="1535.9" y="957.2" font-size="48.5" textLength="26.5" lengthAdjust="spacingAndGlyphs">8</text>
<text><tspan x="1034.5" y="1030.0" font-size="50" font-style="italic" textLength="42.0" lengthAdjust="spacingAndGlyphs">K</tspan><tspan x="1078.5" y="1030.0" font-size="50" font-style="italic" textLength="33.5" lengthAdjust="spacingAndGlyphs">n</tspan></text>
<g transform="translate(387.0 628) rotate(-90)">
<text><tspan x="-0.2" y="0.0" font-size="50" font-style="italic" textLength="37.5" lengthAdjust="spacingAndGlyphs">F</tspan><tspan x="33.7" y="7.5" font-size="35" textLength="26.0" lengthAdjust="spacingAndGlyphs">D</tspan><tspan x="62.4" y="8.0" font-size="58" textLength="25.0" lengthAdjust="spacingAndGlyphs" font-family="'DejaVu Sans', sans-serif" font-weight="200">/</tspan><tspan x="90.4" y="0.0" font-size="50" textLength="18.5" lengthAdjust="spacingAndGlyphs">(</tspan><tspan x="110.8" y="0.0" font-size="48.5" textLength="55.2" lengthAdjust="spacingAndGlyphs">10</tspan><tspan x="171.0" y="-12.9" font-size="32" textLength="25.1" lengthAdjust="spacingAndGlyphs">−</tspan><tspan x="199.6" y="-15.1" font-size="32" textLength="39.6" lengthAdjust="spacingAndGlyphs">13</tspan> <tspan x="258.5" y="0.0" font-size="50" textLength="39.0" lengthAdjust="spacingAndGlyphs">N</tspan><tspan x="300.3" y="0.0" font-size="50" textLength="18.0" lengthAdjust="spacingAndGlyphs">)</tspan></text>
</g>
<text><tspan x="552.5" y="97.5" font-size="50" textLength="65.5" lengthAdjust="spacingAndGlyphs">(a)</tspan> <tspan x="642.0" y="97.5" font-size="50" font-style="italic" textLength="25.0" lengthAdjust="spacingAndGlyphs">k</tspan><tspan x="669.2" y="104.0" font-size="35" textLength="45.5" lengthAdjust="spacingAndGlyphs">SF</tspan> <tspan x="729.8" y="101.0" font-size="50" textLength="38.5" lengthAdjust="spacingAndGlyphs">=</tspan> <tspan x="782.0" y="97.5" font-size="48.5" textLength="97.5" lengthAdjust="spacingAndGlyphs">0.01</tspan></text>
<rect x="849.2" y="152.1" width="21.8" height="21.4" rx="1.2" fill="#000"/>
<path d="M821.2 227.3H899.9" stroke="#00a0ff" stroke-width="2.9" stroke-linecap="round"/>
<path d="M860.6 212.5L873.6 235.0H847.6Z" fill="#00a0ff" stroke="#00a0ff" stroke-width="2" stroke-linejoin="round"/>
<path d="M821.2 283.7H899.9" stroke="#ea000a" stroke-width="2.9" stroke-linecap="round"/>
<circle cx="860.6" cy="283.7" r="10" fill="#fff" stroke="#ea000a" stroke-width="3.1"/>
<path d="M821.2 344.4H899.9" stroke="#ea000a" stroke-width="2.9" stroke-linecap="round"/>
<circle cx="860.6" cy="344.4" r="12.4" fill="#ff0000"/>
<text><tspan x="920.0" y="177.0" font-size="50" textLength="88.0" lengthAdjust="spacingAndGlyphs">MD</tspan> <tspan x="1030.0" y="177.0" font-size="50" textLength="249.0" lengthAdjust="spacingAndGlyphs">simulation</tspan></text>
<text><tspan x="920.0" y="237.4" font-size="50" textLength="168.5" lengthAdjust="spacingAndGlyphs">Stokes-</tspan><tspan x="1092.3" y="237.4" font-size="50" textLength="306.0" lengthAdjust="spacingAndGlyphs">Cunningham</tspan> <tspan x="1418.0" y="237.4" font-size="50" textLength="153.0" lengthAdjust="spacingAndGlyphs">theory</tspan></text>
<text><tspan x="920.0" y="297.0" font-size="50" textLength="202.0" lengthAdjust="spacingAndGlyphs">Li-Wang</tspan> <tspan x="1141.5" y="297.0" font-size="50" textLength="163.0" lengthAdjust="spacingAndGlyphs">theory,</tspan> <tspan x="1328.5" y="297.0" font-size="50" textLength="106.0" lengthAdjust="spacingAndGlyphs">with</tspan> <tspan x="1454.5" y="297.0" font-size="50" font-style="italic" textLength="41.0" lengthAdjust="spacingAndGlyphs">R</tspan></text>
<text><tspan x="920.0" y="358.8" font-size="50" textLength="202.0" lengthAdjust="spacingAndGlyphs">Li-Wang</tspan> <tspan x="1141.5" y="358.8" font-size="50" textLength="163.0" lengthAdjust="spacingAndGlyphs">theory,</tspan> <tspan x="1328.5" y="358.8" font-size="50" textLength="106.0" lengthAdjust="spacingAndGlyphs">with</tspan> <tspan x="1454.5" y="358.8" font-size="50" font-style="italic" textLength="41.0" lengthAdjust="spacingAndGlyphs">R</tspan><tspan x="1496.0" y="364.6" font-size="35" textLength="17.0" lengthAdjust="spacingAndGlyphs">e</tspan></text>
<g><circle cx="2912.0" cy="554.3" r="17.8" fill="url(#gb)" stroke="#24246a" stroke-opacity=".55" stroke-width=".9"/><circle cx="2907.1" cy="588.2" r="17.8" fill="url(#gb)" stroke="#24246a" stroke-opacity=".55" stroke-width=".9"/><circle cx="2899.3" cy="616.2" r="17.8" fill="url(#gb)" stroke="#24246a" stroke-opacity=".55" stroke-width=".9"/><circle cx="2886.8" cy="637.7" r="17.8" fill="url(#gb)" stroke="#24246a" stroke-opacity=".55" stroke-width=".9"/><circle cx="2864.2" cy="658.6" r="17.8" fill="url(#gb)" stroke="#24246a" stroke-opacity=".55" stroke-width=".9"/><circle cx="2835.8" cy="671.3" r="17.8" fill="url(#gb)" stroke="#24246a" stroke-opacity=".55" stroke-width=".9"/><circle cx="2803.4" cy="687.7" r="17.8" fill="url(#gb)" stroke="#24246a" stroke-opacity=".55" stroke-width=".9"/><circle cx="2776.0" cy="682.3" r="17.8" fill="url(#gb)" stroke="#24246a" stroke-opacity=".55" stroke-width=".9"/><circle cx="2737.6" cy="680.7" r="17.8" fill="url(#gb)" stroke="#24246a" stroke-opacity=".55" stroke-width=".9"/><circle cx="2713.0" cy="661.3" r="17.8" fill="url(#gb)" stroke="#24246a" stroke-opacity=".55" stroke-width=".9"/><circle cx="2689.5" cy="634.5" r="17.8" fill="url(#gb)" stroke="#24246a" stroke-opacity=".55" stroke-width=".9"/><circle cx="2672.1" cy="611.4" r="17.8" fill="url(#gb)" stroke="#24246a" stroke-opacity=".55" stroke-width=".9"/><circle cx="2666.1" cy="590.8" r="17.8" fill="url(#gb)" stroke="#24246a" stroke-opacity=".55" stroke-width=".9"/><circle cx="2654.4" cy="559.0" r="17.8" fill="url(#gb)" stroke="#24246a" stroke-opacity=".55" stroke-width=".9"/><circle cx="2659.5" cy="529.5" r="17.8" fill="url(#gb)" stroke="#24246a" stroke-opacity=".55" stroke-width=".9"/><circle cx="2674.2" cy="495.6" r="17.8" fill="url(#gb)" stroke="#24246a" stroke-opacity=".55" stroke-width=".9"/><circle cx="2693.6" cy="473.4" r="17.8" fill="url(#gb)" stroke="#24246a" stroke-opacity=".55" stroke-width=".9"/><circle cx="2710.4" cy="456.0" r="17.8" fill="url(#gb)" stroke="#24246a" stroke-opacity=".55" stroke-width=".9"/><circle cx="2743.2" cy="435.8" r="17.8" fill="url(#gb)" stroke="#24246a" stroke-opacity=".55" stroke-width=".9"/><circle cx="2768.5" cy="427.9" r="17.8" fill="url(#gb)" stroke="#24246a" stroke-opacity=".55" stroke-width=".9"/><circle cx="2801.2" cy="430.4" r="17.8" fill="url(#gb)" stroke="#24246a" stroke-opacity=".55" stroke-width=".9"/><circle cx="2836.5" cy="435.4" r="17.8" fill="url(#gb)" stroke="#24246a" stroke-opacity=".55" stroke-width=".9"/><circle cx="2857.4" cy="447.9" r="17.8" fill="url(#gb)" stroke="#24246a" stroke-opacity=".55" stroke-width=".9"/><circle cx="2886.1" cy="468.7" r="17.8" fill="url(#gb)" stroke="#24246a" stroke-opacity=".55" stroke-width=".9"/><circle cx="2900.2" cy="500.1" r="17.8" fill="url(#gb)" stroke="#24246a" stroke-opacity=".55" stroke-width=".9"/><circle cx="2909.3" cy="532.4" r="17.8" fill="url(#gb)" stroke="#24246a" stroke-opacity=".55" stroke-width=".9"/><circle cx="2786.5" cy="556.5" r="122" fill="#4848c0"/><circle cx="2786.5" cy="560.5" r="102" fill="#e4585a"/><circle cx="2719.8" cy="598.2" r="17" fill="url(#gr)" stroke="#7c2a2a" stroke-opacity=".55" stroke-width=".9"/><circle cx="2822.0" cy="610.7" r="17" fill="url(#gr)" stroke="#7c2a2a" stroke-opacity=".55" stroke-width=".9"/><circle cx="2856.3" cy="578.0" r="17" fill="url(#gr)" stroke="#7c2a2a" stroke-opacity=".55" stroke-width=".9"/><circle cx="2792.6" cy="494.2" r="17" fill="url(#gr)" stroke="#7c2a2a" stroke-opacity=".55" stroke-width=".9"/><circle cx="2821.5" cy="525.8" r="17" fill="url(#gr)" stroke="#7c2a2a" stroke-opacity=".55" stroke-width=".9"/><circle cx="2763.6" cy="496.6" r="17" fill="url(#gr)" stroke="#7c2a2a" stroke-opacity=".55" stroke-width=".9"/><circle cx="2734.4" cy="531.9" r="17" fill="url(#gr)" stroke="#7c2a2a" stroke-opacity=".55" stroke-width=".9"/><circle cx="2832.3" cy="488.3" r="17" fill="url(#gr)" stroke="#7c2a2a" stroke-opacity=".55" stroke-width=".9"/><circle cx="2715.7" cy="572.1" r="17" fill="url(#gr)" stroke="#7c2a2a" stroke-opacity=".55" stroke-width=".9"/><circle cx="2854.9" cy="587.9" r="17" fill="url(#gr)" stroke="#7c2a2a" stroke-opacity=".55" stroke-width=".9"/><circle cx="2733.7" cy="490.5" r="17" fill="url(#gr)" stroke="#7c2a2a" stroke-opacity=".55" stroke-width=".9"/><circle cx="2807.0" cy="518.3" r="17" fill="url(#gr)" stroke="#7c2a2a" stroke-opacity=".55" stroke-width=".9"/><circle cx="2732.3" cy="607.8" r="17" fill="url(#gr)" stroke="#7c2a2a" stroke-opacity=".55" stroke-width=".9"/><circle cx="2845.7" cy="568.9" r="17" fill="url(#gr)" stroke="#7c2a2a" stroke-opacity=".55" stroke-width=".9"/><circle cx="2801.3" cy="586.7" r="17" fill="url(#gr)" stroke="#7c2a2a" stroke-opacity=".55" stroke-width=".9"/><circle cx="2858.4" cy="588.4" r="17" fill="url(#gr)" stroke="#7c2a2a" stroke-opacity=".55" stroke-width=".9"/><circle cx="2816.6" cy="592.3" r="17" fill="url(#gr)" stroke="#7c2a2a" stroke-opacity=".55" stroke-width=".9"/><circle cx="2722.9" cy="612.5" r="17" fill="url(#gr)" stroke="#7c2a2a" stroke-opacity=".55" stroke-width=".9"/><circle cx="2838.1" cy="589.1" r="17" fill="url(#gr)" stroke="#7c2a2a" stroke-opacity=".55" stroke-width=".9"/><circle cx="2707.7" cy="535.2" r="17" fill="url(#gr)" stroke="#7c2a2a" stroke-opacity=".55" stroke-width=".9"/><circle cx="2821.0" cy="486.3" r="17" fill="url(#gr)" stroke="#7c2a2a" stroke-opacity=".55" stroke-width=".9"/><circle cx="2776.4" cy="616.3" r="17" fill="url(#gr)" stroke="#7c2a2a" stroke-opacity=".55" stroke-width=".9"/><circle cx="2734.2" cy="624.7" r="17" fill="url(#gr)" stroke="#7c2a2a" stroke-opacity=".55" stroke-width=".9"/><circle cx="2819.5" cy="551.5" r="17" fill="url(#gr)" stroke="#7c2a2a" stroke-opacity=".55" stroke-width=".9"/><circle cx="2805.5" cy="598.4" r="17" fill="url(#gr)" stroke="#7c2a2a" stroke-opacity=".55" stroke-width=".9"/><circle cx="2792.9" cy="621.4" r="17" fill="url(#gr)" stroke="#7c2a2a" stroke-opacity=".55" stroke-width=".9"/><circle cx="2748.3" cy="536.5" r="17" fill="url(#gr)" stroke="#7c2a2a" stroke-opacity=".55" stroke-width=".9"/><circle cx="2843.4" cy="562.0" r="17" fill="url(#gr)" stroke="#7c2a2a" stroke-opacity=".55" stroke-width=".9"/><circle cx="2741.4" cy="609.0" r="17" fill="url(#gr)" stroke="#7c2a2a" stroke-opacity=".55" stroke-width=".9"/><circle cx="2856.5" cy="539.3" r="17" fill="url(#gr)" stroke="#7c2a2a" stroke-opacity=".55" stroke-width=".9"/><circle cx="2717.7" cy="553.8" r="17" fill="url(#gr)" stroke="#7c2a2a" stroke-opacity=".55" stroke-width=".9"/><circle cx="2777.4" cy="542.2" r="17" fill="url(#gr)" stroke="#7c2a2a" stroke-opacity=".55" stroke-width=".9"/><circle cx="2849.2" cy="514.6" r="17" fill="url(#gr)" stroke="#7c2a2a" stroke-opacity=".55" stroke-width=".9"/><circle cx="2841.9" cy="504.7" r="17" fill="url(#gr)" stroke="#7c2a2a" stroke-opacity=".55" stroke-width=".9"/><circle cx="2743.1" cy="595.3" r="17" fill="url(#gr)" stroke="#7c2a2a" stroke-opacity=".55" stroke-width=".9"/><circle cx="2842.3" cy="602.9" r="17" fill="url(#gr)" stroke="#7c2a2a" stroke-opacity=".55" stroke-width=".9"/><circle cx="2807.6" cy="569.2" r="17" fill="url(#gr)" stroke="#7c2a2a" stroke-opacity=".55" stroke-width=".9"/><circle cx="2795.6" cy="594.8" r="17" fill="url(#gr)" stroke="#7c2a2a" stroke-opacity=".55" stroke-width=".9"/><circle cx="2775.7" cy="577.5" r="17" fill="url(#gr)" stroke="#7c2a2a" stroke-opacity=".55" stroke-width=".9"/><circle cx="2820.7" cy="560.6" r="17" fill="url(#gr)" stroke="#7c2a2a" stroke-opacity=".55" stroke-width=".9"/><circle cx="2897.5" cy="568.0" r="17.8" fill="url(#gb)" stroke="#24246a" stroke-opacity=".55" stroke-width=".9"/><circle cx="2894.9" cy="599.9" r="17.8" fill="url(#gb)" stroke="#24246a" stroke-opacity=".55" stroke-width=".9"/><circle cx="2868.4" cy="629.1" r="17.8" fill="url(#gb)" stroke="#24246a" stroke-opacity=".55" stroke-width=".9"/><circle cx="2849.1" cy="648.8" r="17.8" fill="url(#gb)" stroke="#24246a" stroke-opacity=".55" stroke-width=".9"/><circle cx="2818.7" cy="660.9" r="17.8" fill="url(#gb)" stroke="#24246a" stroke-opacity=".55" stroke-width=".9"/><circle cx="2782.4" cy="674.4" r="17.8" fill="url(#gb)" stroke="#24246a" stroke-opacity=".55" stroke-width=".9"/><circle cx="2755.1" cy="664.9" r="17.8" fill="url(#gb)" stroke="#24246a" stroke-opacity=".55" stroke-width=".9"/><circle cx="2731.4" cy="650.6" r="17.8" fill="url(#gb)" stroke="#24246a" stroke-opacity=".55" stroke-width=".9"/><circle cx="2704.0" cy="630.3" r="17.8" fill="url(#gb)" stroke="#24246a" stroke-opacity=".55" stroke-width=".9"/><circle cx="2685.3" cy="598.7" r="17.8" fill="url(#gb)" stroke="#24246a" stroke-opacity=".55" stroke-width=".9"/><circle cx="2671.1" cy="578.7" r="17.8" fill="url(#gb)" stroke="#24246a" stroke-opacity=".55" stroke-width=".9"/><circle cx="2678.2" cy="540.6" r="17.8" fill="url(#gb)" stroke="#24246a" stroke-opacity=".55" stroke-width=".9"/><circle cx="2688.2" cy="511.1" r="17.8" fill="url(#gb)" stroke="#24246a" stroke-opacity=".55" stroke-width=".9"/><circle cx="2697.7" cy="479.1" r="17.8" fill="url(#gb)" stroke="#24246a" stroke-opacity=".55" stroke-width=".9"/><circle cx="2727.9" cy="457.6" r="17.8" fill="url(#gb)" stroke="#24246a" stroke-opacity=".55" stroke-width=".9"/><circle cx="2752.5" cy="450.1" r="17.8" fill="url(#gb)" stroke="#24246a" stroke-opacity=".55" stroke-width=".9"/><circle cx="2782.6" cy="440.8" r="17.8" fill="url(#gb)" stroke="#24246a" stroke-opacity=".55" stroke-width=".9"/><circle cx="2819.5" cy="445.5" r="17.8" fill="url(#gb)" stroke="#24246a" stroke-opacity=".55" stroke-width=".9"/><circle cx="2844.5" cy="462.8" r="17.8" fill="url(#gb)" stroke="#24246a" stroke-opacity=".55" stroke-width=".9"/><circle cx="2877.9" cy="482.1" r="17.8" fill="url(#gb)" stroke="#24246a" stroke-opacity=".55" stroke-width=".9"/><circle cx="2893.7" cy="512.0" r="17.8" fill="url(#gb)" stroke="#24246a" stroke-opacity=".55" stroke-width=".9"/><circle cx="2901.2" cy="543.7" r="17.8" fill="url(#gb)" stroke="#24246a" stroke-opacity=".55" stroke-width=".9"/><circle cx="2773.0" cy="426.9" r="17.8" fill="url(#gb)" stroke="#24246a" stroke-opacity=".55" stroke-width=".9"/><circle cx="2726.9" cy="446.6" r="17.8" fill="url(#gb)" stroke="#24246a" stroke-opacity=".55" stroke-width=".9"/><circle cx="2764.6" cy="442.4" r="17.8" fill="url(#gb)" stroke="#24246a" stroke-opacity=".55" stroke-width=".9"/><circle cx="2801.1" cy="450.8" r="17.8" fill="url(#gb)" stroke="#24246a" stroke-opacity=".55" stroke-width=".9"/><circle cx="2842.2" cy="457.1" r="17.8" fill="url(#gb)" stroke="#24246a" stroke-opacity=".55" stroke-width=".9"/><circle cx="2695.5" cy="467.6" r="17.8" fill="url(#gb)" stroke="#24246a" stroke-opacity=".55" stroke-width=".9"/><circle cx="2871.5" cy="465.5" r="17.8" fill="url(#gb)" stroke="#24246a" stroke-opacity=".55" stroke-width=".9"/><circle cx="2726.9" cy="459.2" r="17.8" fill="url(#gb)" stroke="#24246a" stroke-opacity=".55" stroke-width=".9"/><circle cx="2756.3" cy="471.8" r="17.8" fill="url(#gb)" stroke="#24246a" stroke-opacity=".55" stroke-width=".9"/><circle cx="2689.2" cy="484.3" r="17.8" fill="url(#gb)" stroke="#24246a" stroke-opacity=".55" stroke-width=".9"/><circle cx="2894.6" cy="499.0" r="17.8" fill="url(#gb)" stroke="#24246a" stroke-opacity=".55" stroke-width=".9"/><circle cx="2864.4" cy="484.3" r="17.8" fill="url(#gb)" stroke="#24246a" stroke-opacity=".55" stroke-width=".9"/><circle cx="2826.7" cy="484.3" r="17.8" fill="url(#gb)" stroke="#24246a" stroke-opacity=".55" stroke-width=".9"/><circle cx="2787.7" cy="486.4" r="17.8" fill="url(#gb)" stroke="#24246a" stroke-opacity=".55" stroke-width=".9"/><circle cx="2714.3" cy="494.8" r="17.8" fill="url(#gb)" stroke="#24246a" stroke-opacity=".55" stroke-width=".9"/><circle cx="2741.6" cy="496.9" r="17.8" fill="url(#gb)" stroke="#24246a" stroke-opacity=".55" stroke-width=".9"/><circle cx="2909.3" cy="515.8" r="17.8" fill="url(#gb)" stroke="#24246a" stroke-opacity=".55" stroke-width=".9"/><circle cx="2657.7" cy="524.2" r="17.8" fill="url(#gb)" stroke="#24246a" stroke-opacity=".55" stroke-width=".9"/><circle cx="2667.0" cy="526.3" r="17.8" fill="url(#gb)" stroke="#24246a" stroke-opacity=".55" stroke-width=".9"/><circle cx="2915.6" cy="538.8" r="17.8" fill="url(#gb)" stroke="#24246a" stroke-opacity=".55" stroke-width=".9"/><circle cx="2879.9" cy="520.0" r="17.8" fill="url(#gb)" stroke="#24246a" stroke-opacity=".55" stroke-width=".9"/><circle cx="2844.3" cy="520.0" r="17.8" fill="url(#gb)" stroke="#24246a" stroke-opacity=".55" stroke-width=".9"/><circle cx="2808.7" cy="509.5" r="17.8" fill="url(#gb)" stroke="#24246a" stroke-opacity=".55" stroke-width=".9"/><circle cx="2766.7" cy="520.0" r="17.8" fill="url(#gb)" stroke="#24246a" stroke-opacity=".55" stroke-width=".9"/><circle cx="2699.7" cy="524.2" r="17.8" fill="url(#gb)" stroke="#24246a" stroke-opacity=".55" stroke-width=".9"/><circle cx="2725.6" cy="525.0" r="17.8" fill="url(#gb)" stroke="#24246a" stroke-opacity=".55" stroke-width=".9"/><circle cx="2913.5" cy="570.3" r="17.8" fill="url(#gb)" stroke="#24246a" stroke-opacity=".55" stroke-width=".9"/><circle cx="2898.8" cy="559.8" r="17.8" fill="url(#gb)" stroke="#24246a" stroke-opacity=".55" stroke-width=".9"/><circle cx="2682.9" cy="555.6" r="17.8" fill="url(#gb)" stroke="#24246a" stroke-opacity=".55" stroke-width=".9"/><circle cx="2710.1" cy="557.7" r="17.8" fill="url(#gb)" stroke="#24246a" stroke-opacity=".55" stroke-width=".9"/><circle cx="2865.3" cy="555.6" r="17.8" fill="url(#gb)" stroke="#24246a" stroke-opacity=".55" stroke-width=".9"/><circle cx="2825.4" cy="547.2" r="17.8" fill="url(#gb)" stroke="#24246a" stroke-opacity=".55" stroke-width=".9"/><circle cx="2789.8" cy="547.2" r="17.8" fill="url(#gb)" stroke="#24246a" stroke-opacity=".55" stroke-width=".9"/><circle cx="2750.8" cy="556.4" r="17.8" fill="url(#gb)" stroke="#24246a" stroke-opacity=".55" stroke-width=".9"/><circle cx="2664.0" cy="584.9" r="17.8" fill="url(#gb)" stroke="#24246a" stroke-opacity=".55" stroke-width=".9"/><circle cx="2913.5" cy="595.4" r="17.8" fill="url(#gb)" stroke="#24246a" stroke-opacity=".55" stroke-width=".9"/><circle cx="2888.3" cy="591.2" r="17.8" fill="url(#gb)" stroke="#24246a" stroke-opacity=".55" stroke-width=".9"/><circle cx="2864.4" cy="591.2" r="17.8" fill="url(#gb)" stroke="#24246a" stroke-opacity=".55" stroke-width=".9"/><circle cx="2828.4" cy="586.2" r="17.8" fill="url(#gb)" stroke="#24246a" stroke-opacity=".55" stroke-width=".9"/><circle cx="2784.3" cy="582.8" r="17.8" fill="url(#gb)" stroke="#24246a" stroke-opacity=".55" stroke-width=".9"/><circle cx="2700.9" cy="596.3" r="17.8" fill="url(#gb)" stroke="#24246a" stroke-opacity=".55" stroke-width=".9"/><circle cx="2742.8" cy="592.5" r="17.8" fill="url(#gb)" stroke="#24246a" stroke-opacity=".55" stroke-width=".9"/><circle cx="2680.8" cy="622.7" r="17.8" fill="url(#gb)" stroke="#24246a" stroke-opacity=".55" stroke-width=".9"/><circle cx="2892.5" cy="633.2" r="17.8" fill="url(#gb)" stroke="#24246a" stroke-opacity=".55" stroke-width=".9"/><circle cx="2879.9" cy="629.0" r="17.8" fill="url(#gb)" stroke="#24246a" stroke-opacity=".55" stroke-width=".9"/><circle cx="2728.2" cy="616.4" r="17.8" fill="url(#gb)" stroke="#24246a" stroke-opacity=".55" stroke-width=".9"/><circle cx="2800.3" cy="616.4" r="17.8" fill="url(#gb)" stroke="#24246a" stroke-opacity=".55" stroke-width=".9"/><circle cx="2776.4" cy="616.4" r="17.8" fill="url(#gb)" stroke="#24246a" stroke-opacity=".55" stroke-width=".9"/><circle cx="2844.3" cy="624.8" r="17.8" fill="url(#gb)" stroke="#24246a" stroke-opacity=".55" stroke-width=".9"/><circle cx="2710.1" cy="637.3" r="17.8" fill="url(#gb)" stroke="#24246a" stroke-opacity=".55" stroke-width=".9"/><circle cx="2701.8" cy="654.1" r="17.8" fill="url(#gb)" stroke="#24246a" stroke-opacity=".55" stroke-width=".9"/><circle cx="2762.5" cy="631.1" r="17.8" fill="url(#gb)" stroke="#24246a" stroke-opacity=".55" stroke-width=".9"/><circle cx="2848.5" cy="658.3" r="17.8" fill="url(#gb)" stroke="#24246a" stroke-opacity=".55" stroke-width=".9"/><circle cx="2831.7" cy="641.5" r="17.8" fill="url(#gb)" stroke="#24246a" stroke-opacity=".55" stroke-width=".9"/><circle cx="2737.4" cy="660.4" r="17.8" fill="url(#gb)" stroke="#24246a" stroke-opacity=".55" stroke-width=".9"/><circle cx="2796.1" cy="656.2" r="17.8" fill="url(#gb)" stroke="#24246a" stroke-opacity=".55" stroke-width=".9"/><circle cx="2829.6" cy="679.3" r="17.8" fill="url(#gb)" stroke="#24246a" stroke-opacity=".55" stroke-width=".9"/><circle cx="2773.0" cy="670.9" r="17.8" fill="url(#gb)" stroke="#24246a" stroke-opacity=".55" stroke-width=".9"/><circle cx="2810.8" cy="675.1" r="17.8" fill="url(#gb)" stroke="#24246a" stroke-opacity=".55" stroke-width=".9"/><circle cx="2764.6" cy="683.5" r="17.8" fill="url(#gb)" stroke="#24246a" stroke-opacity=".55" stroke-width=".9"/><circle cx="2802.4" cy="687.7" r="17.8" fill="url(#gb)" stroke="#24246a" stroke-opacity=".55" stroke-width=".9"/></g>
<g stroke="#000" stroke-width="2.6" stroke-linecap="round" fill="none"><path d="M2038.3 129.2V301.8M2028.7 129.2h19.2M2028.7 301.8h19.2"/><path d="M2057.4 188.4V424.4M2047.8 188.4h19.2M2047.8 424.4h19.2"/><path d="M2079.0 289.9V372.6M2069.4 289.9h19.2M2069.4 372.6h19.2"/><path d="M2112.4 337.6V441.4M2102.8 337.6h19.2M2102.8 441.4h19.2"/><path d="M2178.7 483.6V597.6M2169.1 483.6h19.2M2169.1 597.6h19.2"/><path d="M2246.4 544.8V660.2M2236.8 544.8h19.2M2236.8 660.2h19.2"/><path d="M2376.1 653.2V704.6M2366.5 653.2h19.2M2366.5 704.6h19.2"/><path d="M2476.6 681.8V725.1M2467.0 681.8h19.2M2467.0 725.1h19.2"/><path d="M2626.9 695.8V780.9M2617.3 695.8h19.2M2617.3 780.9h19.2"/><path d="M2755.2 746.0V790.8M2745.6 746.0h19.2M2745.6 790.8h19.2"/><path d="M2899.5 763.7V808.4M2889.9 763.7h19.2M2889.9 808.4h19.2"/></g>
<rect x="2027.5" y="204.5" width="21.6" height="21.4" rx="1.2" fill="#000"/>
<rect x="2046.6" y="295.9" width="21.6" height="21.4" rx="1.2" fill="#000"/>
<rect x="2068.2" y="320.5" width="21.6" height="21.4" rx="1.2" fill="#000"/>
<rect x="2101.6" y="378.8" width="21.6" height="21.4" rx="1.2" fill="#000"/>
<rect x="2167.9" y="529.7" width="21.6" height="21.4" rx="1.2" fill="#000"/>
<rect x="2235.6" y="591.8" width="21.6" height="21.4" rx="1.2" fill="#000"/>
<rect x="2365.3" y="668.5" width="21.6" height="21.4" rx="1.2" fill="#000"/>
<rect x="2465.8" y="692.7" width="21.6" height="21.4" rx="1.2" fill="#000"/>
<rect x="2616.1" y="727.8" width="21.6" height="21.4" rx="1.2" fill="#000"/>
<rect x="2744.4" y="757.6" width="21.6" height="21.4" rx="1.2" fill="#000"/>
<rect x="2888.7" y="775.3" width="21.6" height="21.4" rx="1.2" fill="#000"/>
<polyline points="2038.2,378.3 2057.8,449.4 2079.3,501.2 2113.2,556.9 2178.9,631.4 2246.2,682.4 2376.0,740.1 2476.6,767.6 2626.8,795.7 2754.9,811.1 2899.8,824.1" fill="none" stroke="#ea000a" stroke-width="3.4" stroke-linejoin="round"/>
<circle cx="2038.2" cy="378.3" r="10" fill="#fff" stroke="#ea000a" stroke-width="3.1"/>
<circle cx="2057.8" cy="449.4" r="10" fill="#fff" stroke="#ea000a" stroke-width="3.1"/>
<circle cx="2079.3" cy="501.2" r="10" fill="#fff" stroke="#ea000a" stroke-width="3.1"/>
<circle cx="2113.2" cy="556.9" r="10" fill="#fff" stroke="#ea000a" stroke-width="3.1"/>
<circle cx="2178.9" cy="631.4" r="10" fill="#fff" stroke="#ea000a" stroke-width="3.1"/>
<circle cx="2246.2" cy="682.4" r="10" fill="#fff" stroke="#ea000a" stroke-width="3.1"/>
<circle cx="2376.0" cy="740.1" r="10" fill="#fff" stroke="#ea000a" stroke-width="3.1"/>
<circle cx="2476.6" cy="767.6" r="10" fill="#fff" stroke="#ea000a" stroke-width="3.1"/>
<circle cx="2626.8" cy="795.7" r="10" fill="#fff" stroke="#ea000a" stroke-width="3.1"/>
<circle cx="2754.9" cy="811.1" r="10" fill="#fff" stroke="#ea000a" stroke-width="3.1"/>
<circle cx="2899.8" cy="824.1" r="10" fill="#fff" stroke="#ea000a" stroke-width="3.1"/>
<polyline points="2038.7,447.2 2057.7,534.4 2079.4,587.6 2112.8,640.4 2178.8,702.7 2246.7,747.1 2376.2,791.0 2476.8,809.1 2627.3,831.0 2755.3,840.2 2899.7,848.5" fill="none" stroke="#00a0ff" stroke-width="3.4" stroke-linejoin="round"/>
<path d="M2038.7 432.2L2051.7 454.7H2025.8Z" fill="#00a0ff" stroke="#00a0ff" stroke-width="2" stroke-linejoin="round"/>
<path d="M2057.7 519.4L2070.6 541.9H2044.7Z" fill="#00a0ff" stroke="#00a0ff" stroke-width="2" stroke-linejoin="round"/>
<path d="M2079.4 572.6L2092.3 595.1H2066.5Z" fill="#00a0ff" stroke="#00a0ff" stroke-width="2" stroke-linejoin="round"/>
<path d="M2112.8 625.4L2125.8 647.9H2099.9Z" fill="#00a0ff" stroke="#00a0ff" stroke-width="2" stroke-linejoin="round"/>
<path d="M2178.8 687.7L2191.8 710.2H2165.9Z" fill="#00a0ff" stroke="#00a0ff" stroke-width="2" stroke-linejoin="round"/>
<path d="M2246.7 732.1L2259.6 754.6H2233.8Z" fill="#00a0ff" stroke="#00a0ff" stroke-width="2" stroke-linejoin="round"/>
<path d="M2376.2 776.0L2389.1 798.5H2363.2Z" fill="#00a0ff" stroke="#00a0ff" stroke-width="2" stroke-linejoin="round"/>
<path d="M2476.8 794.1L2489.8 816.6H2463.9Z" fill="#00a0ff" stroke="#00a0ff" stroke-width="2" stroke-linejoin="round"/>
<path d="M2627.3 816.0L2640.2 838.5H2614.4Z" fill="#00a0ff" stroke="#00a0ff" stroke-width="2" stroke-linejoin="round"/>
<path d="M2755.3 825.2L2768.2 847.7H2742.4Z" fill="#00a0ff" stroke="#00a0ff" stroke-width="2" stroke-linejoin="round"/>
<path d="M2899.7 833.5L2912.6 856.0H2886.8Z" fill="#00a0ff" stroke="#00a0ff" stroke-width="2" stroke-linejoin="round"/>
<polyline points="2010.8,77.8 2025.1,184.7 2040.4,259.4 2065.8,338.1 2115.0,447.2 2165.2,526.2 2261.0,619.5 2336.1,663.9 2448.1,711.4 2542.4,738.4 2650.5,762.1 2908.7,799.7" fill="none" stroke="#ea000a" stroke-width="3.4" stroke-linejoin="round"/>
<circle cx="2010.8" cy="77.8" r="12.4" fill="#ff0000"/>
<circle cx="2025.1" cy="184.7" r="12.4" fill="#ff0000"/>
<circle cx="2040.4" cy="259.4" r="12.4" fill="#ff0000"/>
<circle cx="2065.8" cy="338.1" r="12.4" fill="#ff0000"/>
<circle cx="2115.0" cy="447.2" r="12.4" fill="#ff0000"/>
<circle cx="2165.2" cy="526.2" r="12.4" fill="#ff0000"/>
<circle cx="2261.0" cy="619.5" r="12.4" fill="#ff0000"/>
<circle cx="2336.1" cy="663.9" r="12.4" fill="#ff0000"/>
<circle cx="2448.1" cy="711.4" r="12.4" fill="#ff0000"/>
<circle cx="2542.4" cy="738.4" r="12.4" fill="#ff0000"/>
<circle cx="2650.5" cy="762.1" r="12.4" fill="#ff0000"/>
<circle cx="2908.7" cy="799.7" r="12.4" fill="#ff0000"/>
<path d="M1930.6 855.0h7.300000000000001M1930.6 806.9h14.3M1930.6 758.8h7.300000000000001M1930.6 710.7h14.3M1930.6 662.6h7.300000000000001M1930.6 614.5h14.3M1930.6 566.4h7.300000000000001M1930.6 518.3h14.3M1930.6 470.2h7.300000000000001M1930.6 422.1h14.3M1930.6 374.0h7.300000000000001M1930.6 325.9h14.3M1930.6 277.8h7.300000000000001M1930.6 229.7h14.3M1930.6 181.6h7.300000000000001M1930.6 133.5h14.3M1930.6 85.4h7.300000000000001M1993.7 903.3v-7.6M2057.4 903.3v-14.5M2121.1 903.3v-7.6M2184.8 903.3v-14.5M2248.5 903.3v-7.6M2312.2 903.3v-14.5M2375.9 903.3v-7.6M2439.6 903.3v-14.5M2503.3 903.3v-7.6M2567.0 903.3v-14.5M2630.7 903.3v-7.6M2694.4 903.3v-14.5M2758.1 903.3v-7.6M2821.8 903.3v-14.5M2885.5 903.3v-7.6M2949.2 903.3v-14.5M1930.6 902.4v0.9M3013.5 902.4v0.9" stroke="#000" stroke-width="3" stroke-linecap="round" fill="none"/>
<rect x="1930.6" y="36.6" width="1082.9" height="865.8" fill="none" stroke="#000" stroke-width="2.9"/>
<text x="1839.5" y="820.6" font-size="48.5" textLength="69.5" lengthAdjust="spacingAndGlyphs">0.5</text>
<text x="1839.5" y="724.4" font-size="48.5" textLength="69.5" lengthAdjust="spacingAndGlyphs">1.0</text>
<text x="1839.5" y="628.2" font-size="48.5" textLength="69.5" lengthAdjust="spacingAndGlyphs">1.5</text>
<text x="1839.5" y="532.0" font-size="48.5" textLength="69.5" lengthAdjust="spacingAndGlyphs">2.0</text>
<text x="1839.5" y="435.8" font-size="48.5" textLength="69.5" lengthAdjust="spacingAndGlyphs">2.5</text>
<text x="1839.5" y="339.6" font-size="48.5" textLength="69.5" lengthAdjust="spacingAndGlyphs">3.0</text>
<text x="1839.5" y="243.4" font-size="48.5" textLength="69.5" lengthAdjust="spacingAndGlyphs">3.5</text>
<text x="1839.5" y="147.2" font-size="48.5" textLength="69.5" lengthAdjust="spacingAndGlyphs">4.0</text>
<text x="1839.5" y="51.0" font-size="48.5" textLength="69.5" lengthAdjust="spacingAndGlyphs">4.5</text>
<text x="1883.3" y="917.6" font-size="48.5" textLength="26.5" lengthAdjust="spacingAndGlyphs">0</text>
<text x="1916.7" y="957.2" font-size="48.5" textLength="26.5" lengthAdjust="spacingAndGlyphs">0</text>
<text x="2044.1" y="957.2" font-size="48.5" textLength="26.5" lengthAdjust="spacingAndGlyphs">1</text>
<text x="2171.5" y="957.2" font-size="48.5" textLength="26.5" lengthAdjust="spacingAndGlyphs">2</text>
<text x="2298.9" y="957.2" font-size="48.5" textLength="26.5" lengthAdjust="spacingAndGlyphs">3</text>
<text x="2426.3" y="957.2" font-size="48.5" textLength="26.5" lengthAdjust="spacingAndGlyphs">4</text>
<text x="2553.7" y="957.2" font-size="48.5" textLength="26.5" lengthAdjust="spacingAndGlyphs">5</text>
<text x="2681.1" y="957.2" font-size="48.5" textLength="26.5" lengthAdjust="spacingAndGlyphs">6</text>
<text x="2808.5" y="957.2" font-size="48.5" textLength="26.5" lengthAdjust="spacingAndGlyphs">7</text>
<text x="2935.9" y="957.2" font-size="48.5" textLength="26.5" lengthAdjust="spacingAndGlyphs">8</text>
<text><tspan x="2434.5" y="1030.0" font-size="50" font-style="italic" textLength="42.0" lengthAdjust="spacingAndGlyphs">K</tspan><tspan x="2478.5" y="1030.0" font-size="50" font-style="italic" textLength="33.5" lengthAdjust="spacingAndGlyphs">n</tspan></text>
<g transform="translate(1787.0 628) rotate(-90)">
<text><tspan x="-0.2" y="0.0" font-size="50" font-style="italic" textLength="37.5" lengthAdjust="spacingAndGlyphs">F</tspan><tspan x="33.7" y="7.5" font-size="35" textLength="26.0" lengthAdjust="spacingAndGlyphs">D</tspan><tspan x="62.4" y="8.0" font-size="58" textLength="25.0" lengthAdjust="spacingAndGlyphs" font-family="'DejaVu Sans', sans-serif" font-weight="200">/</tspan><tspan x="90.4" y="0.0" font-size="50" textLength="18.5" lengthAdjust="spacingAndGlyphs">(</tspan><tspan x="110.8" y="0.0" font-size="48.5" textLength="55.2" lengthAdjust="spacingAndGlyphs">10</tspan><tspan x="171.0" y="-12.9" font-size="32" textLength="25.1" lengthAdjust="spacingAndGlyphs">−</tspan><tspan x="199.6" y="-15.1" font-size="32" textLength="39.6" lengthAdjust="spacingAndGlyphs">13</tspan> <tspan x="258.5" y="0.0" font-size="50" textLength="39.0" lengthAdjust="spacingAndGlyphs">N</tspan><tspan x="300.3" y="0.0" font-size="50" textLength="18.0" lengthAdjust="spacingAndGlyphs">)</tspan></text>
</g>
<text><tspan x="2046.0" y="97.5" font-size="50" textLength="69.4" lengthAdjust="spacingAndGlyphs">(b)</tspan> <tspan x="2139.1" y="97.5" font-size="50" font-style="italic" textLength="25.0" lengthAdjust="spacingAndGlyphs">k</tspan><tspan x="2166.3" y="104.0" font-size="35" textLength="45.5" lengthAdjust="spacingAndGlyphs">SF</tspan> <tspan x="2226.9" y="101.0" font-size="50" textLength="38.5" lengthAdjust="spacingAndGlyphs">=</tspan> <tspan x="2279.1" y="97.5" font-size="48.5" textLength="97.5" lengthAdjust="spacingAndGlyphs">0.50</tspan></text>
<rect x="2249.2" y="152.1" width="21.8" height="21.4" rx="1.2" fill="#000"/>
<path d="M2221.2 227.3H2299.9" stroke="#00a0ff" stroke-width="2.9" stroke-linecap="round"/>
<path d="M2260.6 212.5L2273.5 235.0H2247.7Z" fill="#00a0ff" stroke="#00a0ff" stroke-width="2" stroke-linejoin="round"/>
<path d="M2221.2 283.7H2299.9" stroke="#ea000a" stroke-width="2.9" stroke-linecap="round"/>
<circle cx="2260.6" cy="283.7" r="10" fill="#fff" stroke="#ea000a" stroke-width="3.1"/>
<path d="M2221.2 344.4H2299.9" stroke="#ea000a" stroke-width="2.9" stroke-linecap="round"/>
<circle cx="2260.6" cy="344.4" r="12.4" fill="#ff0000"/>
<text><tspan x="2320.0" y="177.0" font-size="50" textLength="88.0" lengthAdjust="spacingAndGlyphs">MD</tspan> <tspan x="2430.0" y="177.0" font-size="50" textLength="249.0" lengthAdjust="spacingAndGlyphs">simulation</tspan></text>
<text><tspan x="2320.0" y="237.4" font-size="50" textLength="168.5" lengthAdjust="spacingAndGlyphs">Stokes-</tspan><tspan x="2492.3" y="237.4" font-size="50" textLength="306.0" lengthAdjust="spacingAndGlyphs">Cunningham</tspan> <tspan x="2818.0" y="237.4" font-size="50" textLength="153.0" lengthAdjust="spacingAndGlyphs">theory</tspan></text>
<text><tspan x="2320.0" y="297.0" font-size="50" textLength="202.0" lengthAdjust="spacingAndGlyphs">Li-Wang</tspan> <tspan x="2541.5" y="297.0" font-size="50" textLength="163.0" lengthAdjust="spacingAndGlyphs">theory,</tspan> <tspan x="2728.5" y="297.0" font-size="50" textLength="106.0" lengthAdjust="spacingAndGlyphs">with</tspan> <tspan x="2854.5" y="297.0" font-size="50" font-style="italic" textLength="41.0" lengthAdjust="spacingAndGlyphs">R</tspan></text>
<text><tspan x="2320.0" y="358.8" font-size="50" textLength="202.0" lengthAdjust="spacingAndGlyphs">Li-Wang</tspan> <tspan x="2541.5" y="358.8" font-size="50" textLength="163.0" lengthAdjust="spacingAndGlyphs">theory,</tspan> <tspan x="2728.5" y="358.8" font-size="50" textLength="106.0" lengthAdjust="spacingAndGlyphs">with</tspan> <tspan x="2854.5" y="358.8" font-size="50" font-style="italic" textLength="41.0" lengthAdjust="spacingAndGlyphs">R</tspan><tspan x="2896.0" y="364.6" font-size="35" textLength="17.0" lengthAdjust="spacingAndGlyphs">e</tspan></text>
</svg>
</body></html>
